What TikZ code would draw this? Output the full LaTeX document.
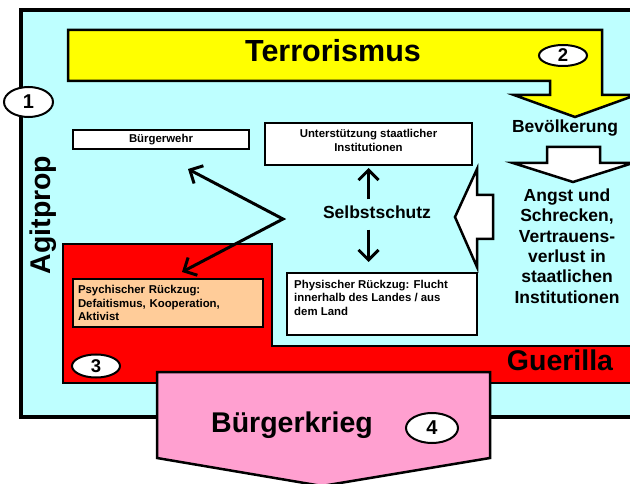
\documentclass[tikz,border=0pt]{standalone}
\usepackage{fontspec}
\setmainfont{Liberation Sans}
\usetikzlibrary{shapes.geometric,arrows.meta}

\definecolor{bgCyan}{RGB}{190,255,255}
\definecolor{terrYellow}{RGB}{255,255,0}
\definecolor{guerRed}{RGB}{255,0,0}
\definecolor{kriegPink}{RGB}{255,160,208}
\definecolor{psychPeach}{RGB}{255,204,153}

\begin{document}
\begin{tikzpicture}[x=1pt, y=-1pt,
rectWhite/.style={rectangle, draw=black, line width=2pt, fill=white, inner sep=0pt},
rectPsych/.style={rectangle, draw=black, line width=2pt, fill=psychPeach, minimum width=190pt, minimum height=48pt, text width=180pt, align=left, inner sep=0pt, font=\fontsize{11.4}{13.5}\selectfont\bfseries},
boxText/.style={inner sep=0pt, font=\fontsize{11.4}{14.5}\selectfont\bfseries},
txtMid/.style={inner sep=0pt, align=center, font=\fontsize{17.5}{20.4}\selectfont\bfseries},
txtBig/.style={inner sep=0pt, font=\fontsize{28.5}{32}\selectfont\bfseries},
ellNum/.style={ellipse, draw=black, line width=2pt, fill=white, inner sep=0pt, font=\fontsize{20}{20}\selectfont\bfseries},
shapeLine/.style={draw=black, line width=2.5pt, line join=miter},
arrLine/.style={draw=black, line width=3pt, line join=miter, -{Straight Barb[length=10pt, width=20pt]}}]

\useasboundingbox (0,0) rectangle (630,484);
\clip (0,0) rectangle (630,484);

% background areas
\filldraw[shapeLine, line width=3.5pt, fill=bgCyan] (21,10) rectangle (650,417);
\filldraw[shapeLine, fill=terrYellow] (68,30) -- (602,30) -- (602,95) -- (636,95) -- (575,117)
  -- (514,95) -- (550,95) -- (550,81) -- (68,81) -- cycle;
\filldraw[shapeLine, fill=guerRed] (63,244) -- (272,244) -- (272,346) -- (650,346) -- (650,383) -- (63,383) -- cycle;
\filldraw[shapeLine, fill=kriegPink] (157,372) -- (490,372) -- (490,458) -- (322,486) -- (157,458) -- cycle;

% hollow block arrows
\filldraw[shapeLine, fill=white] (547,147) -- (600,147) -- (600,163) -- (633,163) -- (573,182) -- (513,163) -- (547,163) -- cycle;
\filldraw[shapeLine, fill=white] (455,217) -- (477,169) -- (477,195) -- (493,195) -- (493,239) -- (477,239) -- (477,267) -- cycle;

% titles
\node[txtBig, font=\fontsize{30.5}{34}\selectfont\bfseries] (terror) at (333,51) {Terrorismus};
\node[txtBig, rotate=90] (agit) at (43,215) {Agitprop};
\node[txtBig] (guer) at (560,360) {Guerilla};
\node[txtBig] (krieg) at (292,425) {Bürgerkrieg};

\node[txtMid] (bevoelk) at (565,128) {Bevölkerung};
\node[txtMid] (angst) at (567,246) {Angst und\\Schrecken,\\Vertrauens-\\verlust in\\staatlichen\\Institutionen};
\node[txtMid] (selbst) at (377,212) {Selbstschutz};

% boxes
\node[rectWhite, minimum width=176pt, minimum height=19pt, font=\fontsize{11.4}{14}\selectfont\bfseries] (wehr) at (161,140) {Bürgerwehr};
\node[rectWhite, minimum width=207pt, minimum height=42pt] (unter) at (368.5,144) {};
\node[boxText, align=center, anchor=north] (unterText) at ([yshift=-7pt]unter.north) {Unterstützung staatlicher\\Institutionen};
\node[rectWhite, minimum width=190pt, minimum height=62pt] (phys) at (382,304) {};
\node[boxText, font=\fontsize{11.4}{13.5}\selectfont\bfseries, align=left, anchor=north west] (physText) at ([xshift=8pt, yshift=-8pt]phys.north west) {Physischer Rückzug: Flucht\\innerhalb des Landes / aus\\dem Land};
\node[rectPsych] (psych) at (168,303) {Psychischer Rückzug:\\Defaitismus, Kooperation,\\Aktivist};

% numbers
\node[ellNum, minimum width=49pt, minimum height=30pt] (num1) at (28.5,102) {1};
\node[ellNum, minimum width=48pt, minimum height=21pt, font=\fontsize{18.5}{19}\selectfont\bfseries] (num2) at (563,55.5) {2};
\node[ellNum, minimum width=48pt, minimum height=23pt, font=\fontsize{18.5}{19}\selectfont\bfseries] (num3) at (96,366) {3};
\node[ellNum, minimum width=52pt, minimum height=30pt] (num4) at (432,428) {4};

% connectors
\coordinate (split) at (283,219);
\coordinate (wehrTip) at (188,169);
\coordinate (psychTip) at (182,272);
\draw[arrLine, {Straight Barb[length=10pt, width=20pt]}-{Straight Barb[length=10pt, width=20pt]}] (wehrTip) -- (split) -- (psychTip);
\draw[arrLine, shorten <=6pt, shorten >=2pt] (unter.south |- selbst.north) -- (unter.south);
\draw[arrLine, shorten <=11pt, shorten >=10pt] (unter.south |- selbst.south) -- (unter.south |- phys.north);

\end{tikzpicture}
\end{document}
